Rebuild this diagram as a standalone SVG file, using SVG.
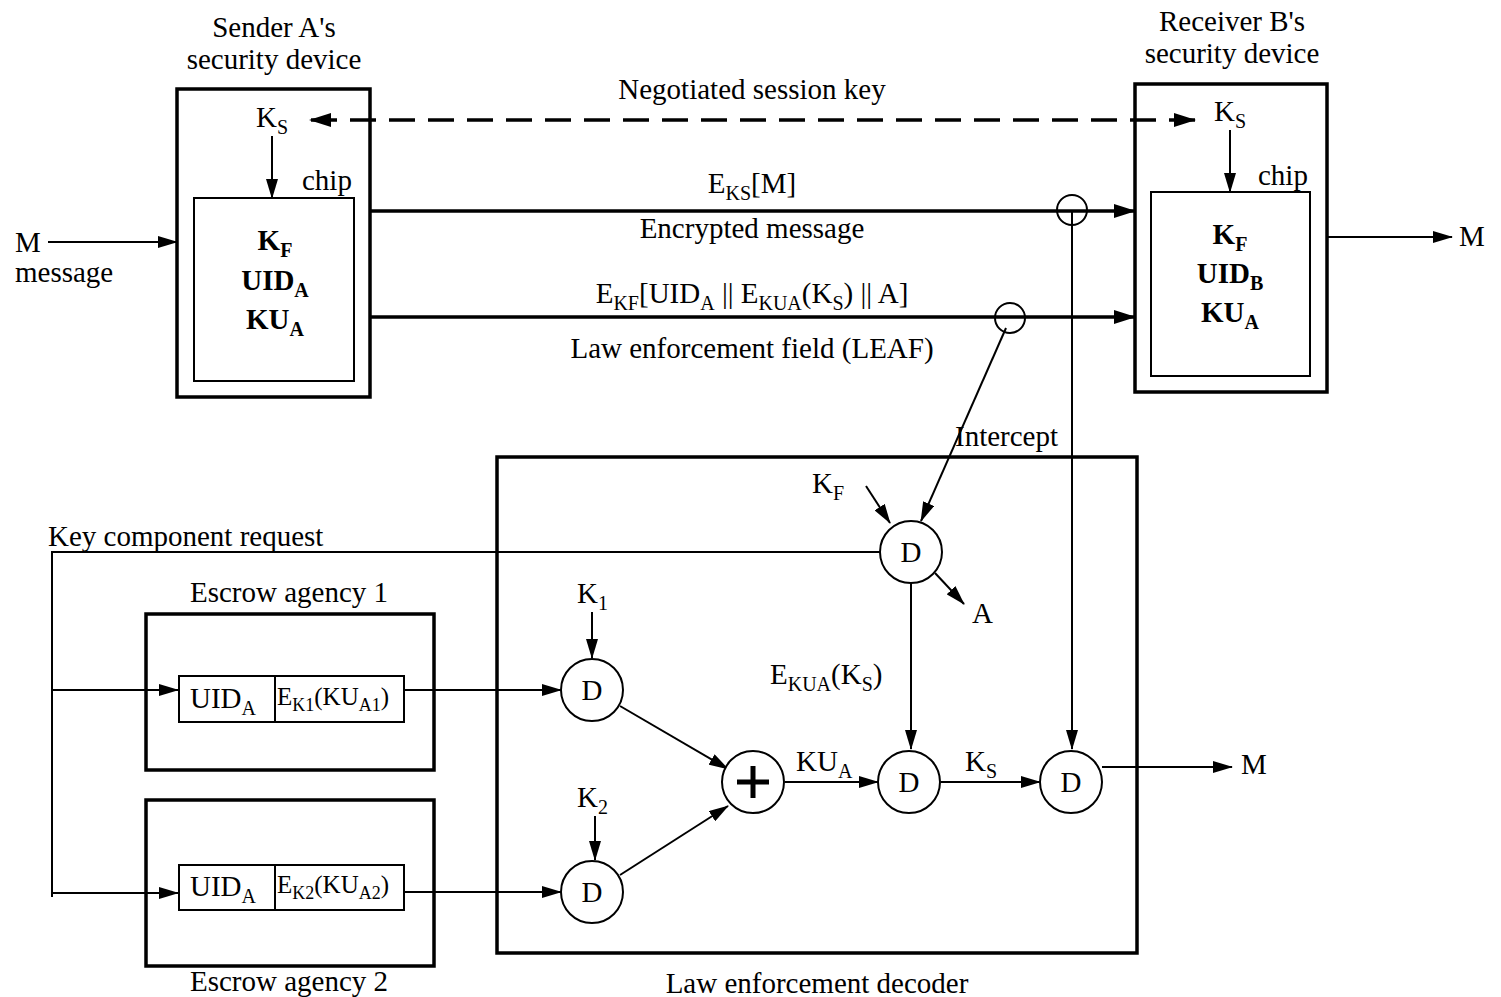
<svg xmlns="http://www.w3.org/2000/svg" width="1501" height="997" viewBox="0 0 1501 997">
<style>
text{font-family:"Liberation Serif","Times New Roman",serif;font-size:29px;fill:#000}
.c{text-anchor:middle}
.b{font-weight:bold}
.s{font-size:20px}
.r{font-size:25px}
.rs{font-size:18px}
.thick{fill:none;stroke:#000;stroke-width:3.5}
.thin{fill:none;stroke:#000;stroke-width:2}
.ln{fill:none;stroke:#000;stroke-width:2}
.lnb{fill:none;stroke:#000;stroke-width:3.5}
.circ{fill:#fff;stroke:#000;stroke-width:2}
</style>
<defs>
<marker id="ah" viewBox="0 0 22 14" refX="21" refY="7" markerWidth="22" markerHeight="14" markerUnits="userSpaceOnUse" orient="auto-start-reverse"><path d="M0,0 L22,7 L0,14 z" fill="#000" stroke="none"/></marker>
<marker id="ahs" viewBox="0 0 20 12" refX="19" refY="6" markerWidth="20" markerHeight="12" markerUnits="userSpaceOnUse" orient="auto"><path d="M0,0 L20,6 L0,12 z" fill="#000" stroke="none"/></marker>
</defs>

<g id="connectors">
<path class="lnb" d="M1195,120 H310" stroke-dasharray="26,13" marker-start="url(#ah)" marker-end="url(#ah)"/>
<path class="ln" d="M272,136 V198" marker-end="url(#ahs)"/>
<path class="ln" d="M1230,130 V192" marker-end="url(#ahs)"/>
<path class="ln" d="M48,242 H177" marker-end="url(#ahs)"/>
<path class="lnb" d="M370,211 H1135" marker-end="url(#ah)"/>
<path class="lnb" d="M370,317 H1135" marker-end="url(#ah)"/>
<path class="ln" d="M1327,237 H1452" marker-end="url(#ahs)"/>
<path class="ln" d="M1072,211 V749" marker-end="url(#ahs)"/>
<path class="ln" d="M1006,328 L921,521" marker-end="url(#ahs)"/>
<path class="ln" d="M866,486 L890,523" marker-end="url(#ahs)"/>
<path class="ln" d="M880,552 H52 V897"/>
<path class="ln" d="M52,690 H178" marker-end="url(#ahs)"/>
<path class="ln" d="M52,893 H178" marker-end="url(#ahs)"/>
<path class="ln" d="M935,573 L964,604" marker-end="url(#ahs)"/>
<path class="ln" d="M911,583 V749" marker-end="url(#ahs)"/>
<path class="ln" d="M404,690 H561" marker-end="url(#ahs)"/>
<path class="ln" d="M404,892 H561" marker-end="url(#ahs)"/>
<path class="ln" d="M592,612 V658" marker-end="url(#ahs)"/>
<path class="ln" d="M595,816 V860" marker-end="url(#ahs)"/>
<path class="ln" d="M620,706 L728,769" marker-end="url(#ahs)"/>
<path class="ln" d="M620,875 L728,806" marker-end="url(#ahs)"/>
<path class="ln" d="M785,782 H878" marker-end="url(#ahs)"/>
<path class="ln" d="M941,782 H1040" marker-end="url(#ahs)"/>
<path class="ln" d="M1102,767 H1232" marker-end="url(#ahs)"/>
<circle cx="1072" cy="210" r="15" fill="none" stroke="#000" stroke-width="2"/>
<circle cx="1010" cy="318" r="15" fill="none" stroke="#000" stroke-width="2"/>
</g>

<g id="labels">
<text x="752" y="99" class="c">Negotiated session key</text>
<text x="752" y="193" class="c">E<tspan class="s" dy="7">KS</tspan><tspan dy="-7">[M]</tspan></text>
<text x="752" y="238" class="c">Encrypted message</text>
<text x="752" y="303" class="c">E<tspan class="s" dy="7">KF</tspan><tspan dy="-7">[UID</tspan><tspan class="s" dy="7">A</tspan><tspan dy="-7"> || E</tspan><tspan class="s" dy="7">KUA</tspan><tspan dy="-7">(K</tspan><tspan class="s" dy="7">S</tspan><tspan dy="-7">) || A]</tspan></text>
<text x="752" y="358" class="c">Law enforcement field (LEAF)</text>
<text x="15" y="252">M</text>
<text x="15" y="282">message</text>
<text x="1459" y="246">M</text>
<text x="955" y="446">Intercept</text>
<text x="48" y="546">Key component request</text>
<text x="1241" y="774">M</text>
</g>

<g id="senderA">
<text x="274" y="37" class="c">Sender A's</text>
<text x="274" y="69" class="c">security device</text>
<rect x="177" y="89" width="193" height="308" class="thick"/>
<rect x="194" y="198" width="160" height="183" class="thin"/>
<text x="256" y="127">K<tspan class="s" dy="7">S</tspan></text>
<text x="302" y="190">chip</text>
<text x="275" y="250" class="c b">K<tspan class="s" dy="7">F</tspan></text>
<text x="275" y="290" class="c b">UID<tspan class="s" dy="7">A</tspan></text>
<text x="275" y="329" class="c b">KU<tspan class="s" dy="7">A</tspan></text>
</g>

<g id="receiverB">
<text x="1232" y="31" class="c">Receiver B's</text>
<text x="1232" y="63" class="c">security device</text>
<rect x="1135" y="84" width="192" height="308" class="thick"/>
<rect x="1151" y="192" width="159" height="184" class="thin"/>
<text x="1214" y="121">K<tspan class="s" dy="7">S</tspan></text>
<text x="1258" y="185">chip</text>
<text x="1230" y="244" class="c b">K<tspan class="s" dy="7">F</tspan></text>
<text x="1230" y="283" class="c b">UID<tspan class="s" dy="7">B</tspan></text>
<text x="1230" y="322" class="c b">KU<tspan class="s" dy="7">A</tspan></text>
</g>

<g id="escrow1">
<text x="289" y="602" class="c">Escrow agency 1</text>
<rect x="146" y="614" width="288" height="156" class="thick"/>
<rect x="179" y="676" width="225" height="46" class="thin"/>
<line x1="275" y1="676" x2="275" y2="722" stroke="#000" stroke-width="2"/>
<text x="190" y="708">UID<tspan class="s" dy="7">A</tspan></text>
<text x="277" y="705" class="r">E<tspan class="rs" dy="6">K1</tspan><tspan dy="-6">(KU</tspan><tspan class="rs" dy="6">A1</tspan><tspan dy="-6">)</tspan></text>
</g>

<g id="escrow2">
<rect x="146" y="800" width="288" height="166" class="thick"/>
<rect x="179" y="865" width="225" height="45" class="thin"/>
<line x1="275" y1="865" x2="275" y2="910" stroke="#000" stroke-width="2"/>
<text x="190" y="896">UID<tspan class="s" dy="7">A</tspan></text>
<text x="277" y="893" class="r">E<tspan class="rs" dy="6">K2</tspan><tspan dy="-6">(KU</tspan><tspan class="rs" dy="6">A2</tspan><tspan dy="-6">)</tspan></text>
<text x="289" y="991" class="c">Escrow agency 2</text>
</g>

<g id="decoder">
<rect x="497" y="457" width="640" height="496" class="thick"/>
<text x="817" y="993" class="c">Law enforcement decoder</text>
</g>

<g id="decF">
<circle cx="911" cy="552" r="31" class="circ"/>
<text x="911" y="562" class="c">D</text>
<text x="812" y="493">K<tspan class="s" dy="7">F</tspan></text>
<text x="972" y="623">A</text>
<text x="770" y="684">E<tspan class="s" dy="7">KUA</tspan><tspan dy="-7">(K</tspan><tspan class="s" dy="7">S</tspan><tspan dy="-7">)</tspan></text>
</g>

<g id="decK1">
<circle cx="592" cy="690" r="31" class="circ"/>
<text x="592" y="700" class="c">D</text>
<text x="577" y="603">K<tspan class="s" dy="7">1</tspan></text>
</g>

<g id="decK2">
<circle cx="592" cy="892" r="31" class="circ"/>
<text x="592" y="902" class="c">D</text>
<text x="577" y="807">K<tspan class="s" dy="7">2</tspan></text>
</g>

<g id="xor">
<circle cx="753" cy="782" r="31" class="circ"/>
<path d="M753,766 V798 M737,782 H769" stroke="#000" stroke-width="5"/>
<text x="796" y="771">KU<tspan class="s" dy="7">A</tspan></text>
</g>

<g id="decKU">
<circle cx="909" cy="782" r="31" class="circ"/>
<text x="909" y="792" class="c">D</text>
<text x="965" y="771">K<tspan class="s" dy="7">S</tspan></text>
</g>

<g id="decKS">
<circle cx="1071" cy="782" r="31" class="circ"/>
<text x="1071" y="792" class="c">D</text>
</g>
</svg>
